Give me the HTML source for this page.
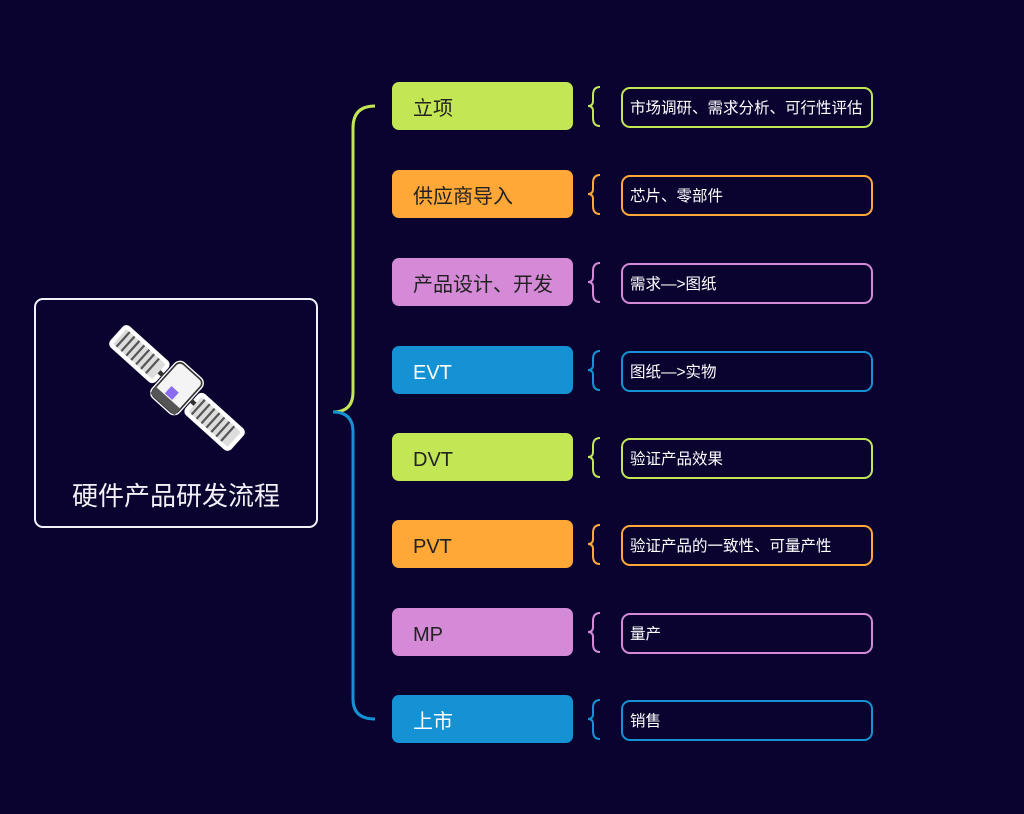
<!DOCTYPE html>
<html><head><meta charset="utf-8"><style>
body{margin:0;width:1024px;height:814px;background:#0a0330;position:relative;overflow:hidden;font-family:"Liberation Sans","Noto Sans CJK SC",sans-serif}
.main{position:absolute;left:34px;top:298px;width:280px;height:226px;border:2px solid #f4f0f8;border-radius:9px}
.main .t{position:absolute;left:0;right:0;top:176px;text-align:center;color:#f4f0f8;font-size:26px}
.n{position:absolute;left:392px;width:181px;height:48px;border-radius:7px;font-size:20px;line-height:54px;text-indent:21px;color:#222}
.d{position:absolute;left:621px;width:248px;height:37px;border:2px solid;border-radius:9px;color:#fff;font-size:15.5px;line-height:40px;text-indent:7px}
</style></head><body>
<svg width="1024" height="814" style="position:absolute;left:0;top:0">
<path d="M375 106 Q353 106 353 128 L353 392 Q353 412 333 412" fill="none" stroke="#c3e655" stroke-width="3"/>
<path d="M333 412 Q353 412 353 432 L353 699 Q353 719 375 719" fill="none" stroke="#1592d4" stroke-width="3"/>
<g fill="none" stroke-width="2">
<path d="M600 87 Q593 87 593 95 L593 101 Q593 106 588 106 Q593 106 593 111 L593 118 Q593 126 600 126" stroke="#c3e655"/>
<path d="M600 175 Q593 175 593 183 L593 189 Q593 194 588 194 Q593 194 593 199 L593 206 Q593 214 600 214" stroke="#ffa838"/>
<path d="M600 263 Q593 263 593 271 L593 277 Q593 282 588 282 Q593 282 593 287 L593 294 Q593 302 600 302" stroke="#d48ad6"/>
<path d="M600 351 Q593 351 593 359 L593 365 Q593 370 588 370 Q593 370 593 375 L593 382 Q593 390 600 390" stroke="#1592d4"/>
<path d="M600 438 Q593 438 593 446 L593 452 Q593 457 588 457 Q593 457 593 462 L593 469 Q593 477 600 477" stroke="#c3e655"/>
<path d="M600 525 Q593 525 593 533 L593 539 Q593 544 588 544 Q593 544 593 549 L593 556 Q593 564 600 564" stroke="#ffa838"/>
<path d="M600 613 Q593 613 593 621 L593 627 Q593 632 588 632 Q593 632 593 637 L593 644 Q593 652 600 652" stroke="#d48ad6"/>
<path d="M600 700 Q593 700 593 708 L593 714 Q593 719 588 719 Q593 719 593 724 L593 731 Q593 739 600 739" stroke="#1592d4"/>
</g>
<g transform="translate(177,388) rotate(42) scale(1.1)">
<rect x="-72" y="-11" width="52" height="22" rx="3" fill="#ddd" stroke="#fff" stroke-width="4"/>
<rect x="20" y="-11" width="52" height="22" rx="3" fill="#ddd" stroke="#fff" stroke-width="4"/>
<g stroke="#555" stroke-width="2">
<line x1="-66" y1="-9" x2="-66" y2="9"/><line x1="-60" y1="-9" x2="-60" y2="9"/><line x1="-54" y1="-9" x2="-54" y2="9"/><line x1="-48" y1="-9" x2="-48" y2="9"/><line x1="-42" y1="-9" x2="-42" y2="9"/><line x1="-36" y1="-9" x2="-36" y2="9"/><line x1="-30" y1="-9" x2="-30" y2="9"/>
<line x1="26" y1="-9" x2="26" y2="9"/><line x1="32" y1="-9" x2="32" y2="9"/><line x1="38" y1="-9" x2="38" y2="9"/><line x1="44" y1="-9" x2="44" y2="9"/><line x1="50" y1="-9" x2="50" y2="9"/><line x1="56" y1="-9" x2="56" y2="9"/><line x1="62" y1="-9" x2="62" y2="9"/>
</g>
<rect x="-22" y="-2" width="44" height="4" fill="#333"/>
<rect x="-15" y="-20" width="30" height="40" rx="5" fill="#f4f4f4" stroke="#fff" stroke-width="4"/>
<rect x="-15" y="-20" width="30" height="40" rx="5" fill="#f4f4f4" stroke="#333" stroke-width="1.5"/>
<rect x="-15" y="12" width="30" height="8" fill="#555"/>
<rect x="-5" y="2" width="9" height="9" fill="#8a6cf0"/>
</g>
</svg>
<div class="main"><div class="t">硬件产品研发流程</div></div>

<div class="n" style="top:82px;background:#c3e655">立项</div>
<div class="n" style="top:170px;background:#ffa838">供应商导入</div>
<div class="n" style="top:258px;background:#d48ad6">产品设计、开发</div>
<div class="n" style="top:346px;background:#1592d4;color:#fff">EVT</div>
<div class="n" style="top:433px;background:#c3e655">DVT</div>
<div class="n" style="top:520px;background:#ffa838">PVT</div>
<div class="n" style="top:608px;background:#d48ad6">MP</div>
<div class="n" style="top:695px;background:#1592d4;color:#fff">上市</div>

<div class="d" style="top:87px;border-color:#c3e655">市场调研、需求分析、可行性评估</div>
<div class="d" style="top:175px;border-color:#ffa838">芯片、零部件</div>
<div class="d" style="top:263px;border-color:#d48ad6">需求—&gt;图纸</div>
<div class="d" style="top:351px;border-color:#1592d4">图纸—&gt;实物</div>
<div class="d" style="top:438px;border-color:#c3e655">验证产品效果</div>
<div class="d" style="top:525px;border-color:#ffa838">验证产品的一致性、可量产性</div>
<div class="d" style="top:613px;border-color:#d48ad6">量产</div>
<div class="d" style="top:700px;border-color:#1592d4">销售</div>
</body></html>
